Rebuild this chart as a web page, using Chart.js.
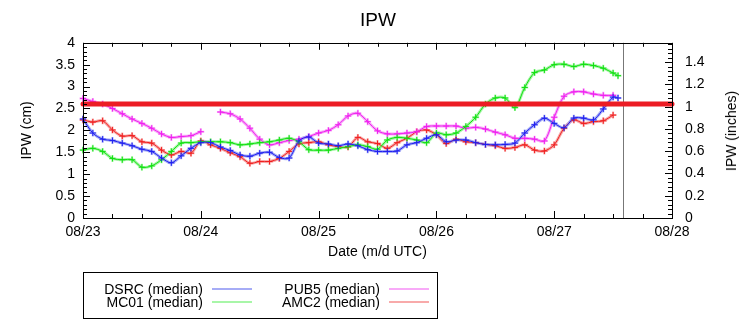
<!DOCTYPE html>
<html>
<head>
<meta charset="utf-8">
<script src="https://cdn.jsdelivr.net/npm/chart.js@4"></script>
<style>
  body { margin: 0; background: #fff; }
  #wrap { position: relative; width: 756px; height: 324px; font-family: "Liberation Sans", Arial, sans-serif; font-size: 14px; color: #000; }
  #y2title { position: absolute; left: 731px; top: 131px; transform: translate(-50%, -50%) rotate(-90deg); white-space: nowrap; }
  #legend { position: absolute; left: 83px; top: 272px; width: 353px; height: 45px; border: 1px solid #000; }
  .lab { position: absolute; width: 140px; text-align: right; line-height: 16px; white-space: nowrap; }
  .swatch { position: absolute; width: 40px; height: 2px; }
</style>
</head>
<body>
<div id="wrap">
  <canvas id="ipwChart" width="756" height="324"></canvas>
  <div id="y2title">IPW (inches)</div>
  <div id="legend"></div>
</div>
<script>
// hours since 08/23 00:00 UTC
var hours = [0, 2, 4, 6, 8, 10, 12, 14, 16, 18, 20, 22, 24, 26, 28, 30, 32, 34, 36, 38,
    40, 42, 44, 46, 48, 50, 52, 54, 56, 58, 60, 62, 64, 66, 68, 70, 72, 74, 76, 78,
    80, 82, 84, 86, 88, 90, 92, 94, 96, 98, 100, 102, 104, 106, 108, 109];
var dayLabels = ["08/23", "08/24", "08/25", "08/26", "08/27", "08/28"];

// IPW in cm
var dsrc = [2.26, 1.94, 1.80, 1.77, 1.71, 1.65, 1.57, 1.52, 1.37, 1.26, 1.42, 1.59, 1.72, 1.72, 1.62, 1.54, 1.44, 1.41, 1.48, 1.50,
    1.38, 1.37, 1.76, 1.85, 1.71, 1.69, 1.65, 1.69, 1.65, 1.56, 1.52, 1.52, 1.53, 1.67, 1.72, 1.82, 1.90, 1.74, 1.78, 1.78,
    1.72, 1.68, 1.67, 1.68, 1.71, 1.94, 2.13, 2.28, 2.16, 2.06, 2.28, 2.28, 2.24, 2.49, 2.76, 2.74];
var mc01 = [1.55, 1.59, 1.52, 1.36, 1.33, 1.33, 1.16, 1.19, 1.33, 1.52, 1.71, 1.72, 1.74, 1.74, 1.74, 1.72, 1.67, 1.69, 1.72, 1.74,
    1.78, 1.82, 1.74, 1.56, 1.55, 1.55, 1.59, 1.63, 1.67, 1.63, 1.57, 1.78, 1.84, 1.82, 1.78, 1.72, 1.94, 1.90, 1.94, 2.09,
    2.30, 2.60, 2.74, 2.74, 2.52, 2.98, 3.32, 3.38, 3.50, 3.51, 3.46, 3.51, 3.48, 3.42, 3.31, 3.25];
var pub5 = [2.73, 2.66, 2.60, 2.50, 2.38, 2.26, 2.16, 2.05, 1.92, 1.84, 1.86, 1.88, 1.97, null, 2.42, 2.38, 2.26, 2.05, 1.80, 1.67,
    1.72, 1.77, 1.80, 1.86, 1.94, 2.00, 2.13, 2.33, 2.39, 2.20, 1.99, 1.92, 1.92, 1.94, 1.97, 2.09, 2.10, 2.10, 2.10, 2.05,
    2.07, 2.03, 1.96, 1.90, 1.82, 1.82, 1.80, 1.76, 2.30, 2.78, 2.88, 2.88, 2.83, 2.80, 2.80, null];
var amc2 = [2.24, 2.19, 2.22, 2.01, 1.87, 1.88, 1.74, 1.71, 1.55, 1.44, 1.52, 1.48, 1.76, 1.67, 1.59, 1.49, 1.40, 1.25, 1.29, 1.29,
    1.36, 1.52, 1.69, 1.72, 1.74, 1.67, 1.63, 1.62, 1.84, 1.74, 1.70, 1.59, 1.72, 1.82, 1.97, 2.01, 1.90, 1.70, 1.80, 1.74,
    1.72, 1.68, 1.65, 1.59, 1.61, 1.67, 1.55, 1.53, 1.67, 2.05, 2.24, 2.16, 2.20, 2.22, 2.35, null];

var thresholdCm = 2.6;
var nowHour = 110;

var stations = [
    { label: "DSRC (median)", values: dsrc, dark: "#2020f0", pale: "#a6acf6", col: 0, row: 0 },
    { label: "MC01 (median)", values: mc01, dark: "#10e010", pale: "#a8f6a8", col: 0, row: 1 },
    { label: "PUB5 (median)", values: pub5, dark: "#f020f0", pale: "#f8aaf8", col: 1, row: 0 },
    { label: "AMC2 (median)", values: amc2, dark: "#f02020", pale: "#f8aaaa", col: 1, row: 1 }
];

function points(values) {
    return hours.map(function(h, i) { return { x: h, y: values[i] }; });
}

var datasets = [{
    label: "threshold",
    data: [{ x: 0, y: thresholdCm }, { x: 120, y: thresholdCm }],
    borderColor: "#ec1c24",
    borderWidth: 5,
    borderCapStyle: "round",
    pointRadius: 0,
    clip: 4,
    order: -1
}];
stations.forEach(function(s) {
    datasets.push({
        label: s.label,
        data: points(s.values),
        borderColor: s.pale,
        borderWidth: 3,
        tension: 0.3,
        pointStyle: "cross",
        pointRadius: 3.5,
        pointBorderWidth: 2,
        pointBorderColor: s.pale,
        clip: 4,
        order: 2
    });
    datasets.push({
        label: s.label + " pts",
        data: points(s.values),
        borderColor: s.dark,
        borderWidth: 1,
        tension: 0.3,
        pointStyle: "cross",
        pointRadius: 3,
        pointBorderWidth: 1,
        pointBorderColor: s.dark,
        clip: 4,
        order: 1
    });
});

// gnuplot style frame with inward ticks, plus the "now" marker
var frameTicks = {
    id: "frameTicks",
    beforeDatasetsDraw: function(chart) {
        var ctx = chart.ctx, a = chart.chartArea;
        var px = Math.round(chart.scales.x.getPixelForValue(nowHour)) + 0.5;
        ctx.save();
        ctx.strokeStyle = "#777";
        ctx.lineWidth = 1;
        ctx.beginPath();
        ctx.moveTo(px, a.top);
        ctx.lineTo(px, a.bottom);
        ctx.stroke();
        ctx.restore();
    },
    afterDatasetsDraw: function(chart) {
        var ctx = chart.ctx, a = chart.chartArea;
        var x = chart.scales.x, y = chart.scales.y, y2 = chart.scales.y2;
        ctx.save();
        ctx.strokeStyle = "#000";
        ctx.lineWidth = 1;
        ctx.beginPath();
        for (var h = 0; h <= 120; h += 6) {
            var px = Math.round(x.getPixelForValue(h)) + 0.5;
            var len = h % 24 === 0 ? 7 : 4;
            ctx.moveTo(px, a.bottom); ctx.lineTo(px, a.bottom - len);
            ctx.moveTo(px, a.top); ctx.lineTo(px, a.top + len);
        }
        for (var i = 0; i <= 40; i++) {
            var py = Math.round(y.getPixelForValue(i / 10)) + 0.5;
            var l = i % 5 === 0 ? 7 : 4;
            ctx.moveTo(a.left, py); ctx.lineTo(a.left + l, py);
        }
        for (var j = 0; j * 0.04 <= y2.max; j++) {
            var py2 = Math.round(y2.getPixelForValue(j * 0.04)) + 0.5;
            var l2 = j % 5 === 0 ? 7 : 4;
            ctx.moveTo(a.right, py2); ctx.lineTo(a.right - l2, py2);
        }
        ctx.stroke();
        ctx.strokeRect(Math.round(a.left) + 0.5, Math.round(a.top) + 0.5,
            Math.round(a.right - a.left), Math.round(a.bottom - a.top));
        ctx.restore();
    }
};

Chart.defaults.font.family = '"Liberation Sans", Arial, sans-serif';
Chart.defaults.font.size = 14;
Chart.defaults.color = "#000";

var ctx = document.getElementById("ipwChart");

new Chart(ctx, {
    type: "line",
    data: { datasets: datasets },
    plugins: [frameTicks],
    options: {
        responsive: false,
        animation: false,
        devicePixelRatio: 1,
        layout: {
            padding: { left: 0, right: 0, top: 0, bottom: 56 }
        },
        scales: {
            x: {
                type: "linear",
                min: 0,
                max: 120,
                grid: { display: false, drawTicks: false },
                border: { display: false },
                ticks: {
                    stepSize: 24,
                    padding: 6,
                    maxRotation: 0,
                    autoSkip: false,
                    callback: function(value) {
                        return dayLabels[Math.round(value / 24)];
                    }
                },
                title: { display: true, text: "Date (m/d UTC)", padding: { top: 0, bottom: 7 } },
                afterFit: function(scale) { scale.height = 50; }
            },
            y: {
                position: "left",
                min: 0,
                max: 4,
                grid: { display: false, drawTicks: false },
                border: { display: false },
                ticks: {
                    stepSize: 0.5,
                    padding: 8,
                    callback: function(value) { return String(+value.toFixed(2)); }
                },
                title: { display: true, text: "IPW (cm)", padding: { top: 19, bottom: 0 } },
                afterFit: function(scale) { scale.width = 83; }
            },
            y2: {
                position: "right",
                min: 0,
                max: 4 / 2.54,
                grid: { display: false, drawTicks: false },
                border: { display: false },
                ticks: {
                    stepSize: 0.2,
                    padding: 13,
                    includeBounds: false,
                    callback: function(value) { return String(+value.toFixed(2)); }
                },
                afterFit: function(scale) { scale.width = 84; }
            }
        },
        plugins: {
            legend: { display: false },
            tooltip: { enabled: false },
            title: {
                display: true,
                text: "IPW",
                font: { size: 19, weight: "normal" },
                padding: { top: 9, bottom: 11 }
            }
        }
    }
});

// legend box below the plot, drawn as html
var legend = document.getElementById("legend");
var textRight = [119, 296], swatchLeft = [128, 305], rowMid = [16, 29];
stations.forEach(function(s) {
    var lab = document.createElement("div");
    lab.className = "lab";
    lab.textContent = s.label;
    lab.style.left = (textRight[s.col] - 140) + "px";
    lab.style.top = (rowMid[s.row] - 8) + "px";
    legend.appendChild(lab);
    var sw = document.createElement("div");
    sw.className = "swatch";
    sw.style.background = s.pale;
    sw.style.left = swatchLeft[s.col] + "px";
    sw.style.top = (rowMid[s.row] - 1) + "px";
    legend.appendChild(sw);
});
</script>
</body>
</html>
